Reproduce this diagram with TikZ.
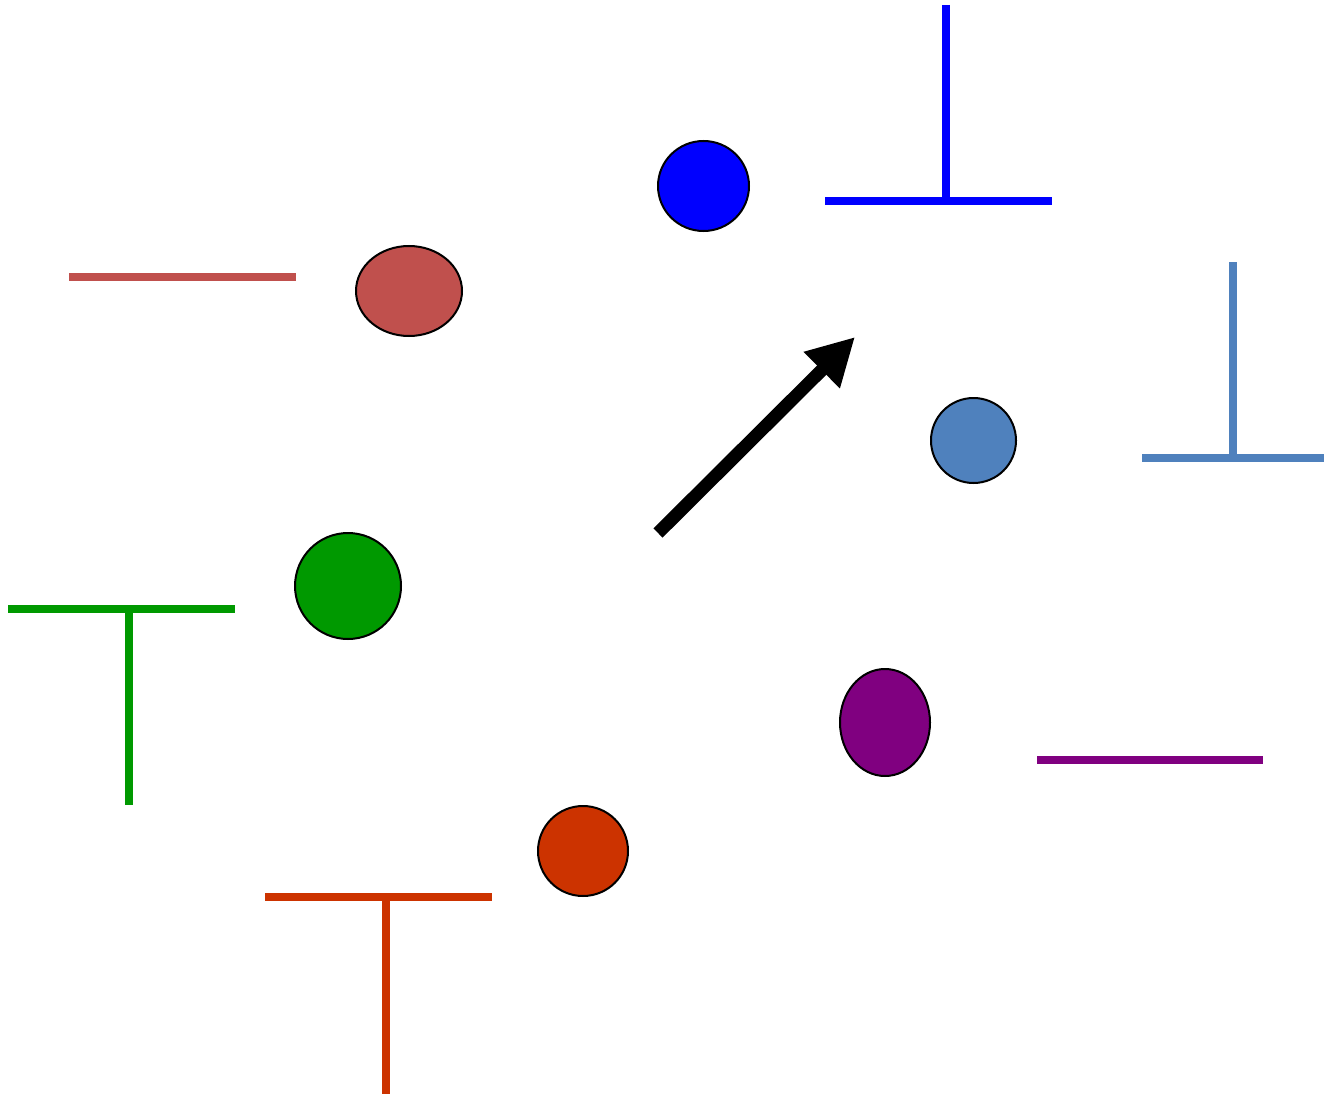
\documentclass[tikz,border=0pt]{standalone}
\usetikzlibrary{shapes.geometric,arrows.meta}
\definecolor{cRed}{HTML}{C0504D}
\definecolor{cBlue}{HTML}{0000FF}
\definecolor{cSteel}{HTML}{4F81BD}
\definecolor{cGreen}{HTML}{009900}
\definecolor{cPurple}{HTML}{800080}
\definecolor{cOrange}{HTML}{CC3300}
\tikzset{
  blob/.style={ellipse, draw=black, line width=2pt, inner sep=0pt, outer sep=0pt},
  bar/.style={line width=8pt, line cap=butt},
}
\begin{document}
\begin{tikzpicture}[x=1pt,y=-1pt]
\useasboundingbox (0,0) rectangle (1330,1094);
% blobs
\node[blob, fill=cRed, minimum width=106pt, minimum height=90pt] (redb) at (409,291) {};
\node[blob, fill=cBlue, minimum width=91pt, minimum height=90pt] (blueb) at (703.5,186) {};
\node[blob, fill=cSteel, minimum width=85pt, minimum height=85pt] (steelb) at (973.5,440.5) {};
\node[blob, fill=cGreen, minimum width=106pt, minimum height=106pt] (greenb) at (348,586) {};
\node[blob, fill=cPurple, minimum width=90pt, minimum height=107pt] (purpleb) at (885,722.5) {};
\node[blob, fill=cOrange, minimum width=90pt, minimum height=90pt] (orangeb) at (583,851) {};
% bars
\draw[bar, cRed] (69,276.5) -- (296,276.5);
\draw[bar, cBlue] (825,201) -- (1052,201);
\draw[bar, cBlue] (946,5) -- (946,201);
\draw[bar, cSteel] (1142,458) -- (1324,458);
\draw[bar, cSteel] (1233,262) -- (1233,458);
\draw[bar, cGreen] (8,609) -- (235,609);
\draw[bar, cGreen] (129,609) -- (129,805);
\draw[bar, cPurple] (1037,760) -- (1263,760);
\draw[bar, cOrange] (265,896.5) -- (492,896.5);
\draw[bar, cOrange] (386,896.5) -- (386,1094);
% arrow
\coordinate (atail) at (658,533);
\coordinate (ahead) at (855,337);
\draw[line width=13pt, line cap=butt, -{Triangle[length=47pt,width=48pt]}] (atail) -- (ahead);
\end{tikzpicture}
\end{document}
